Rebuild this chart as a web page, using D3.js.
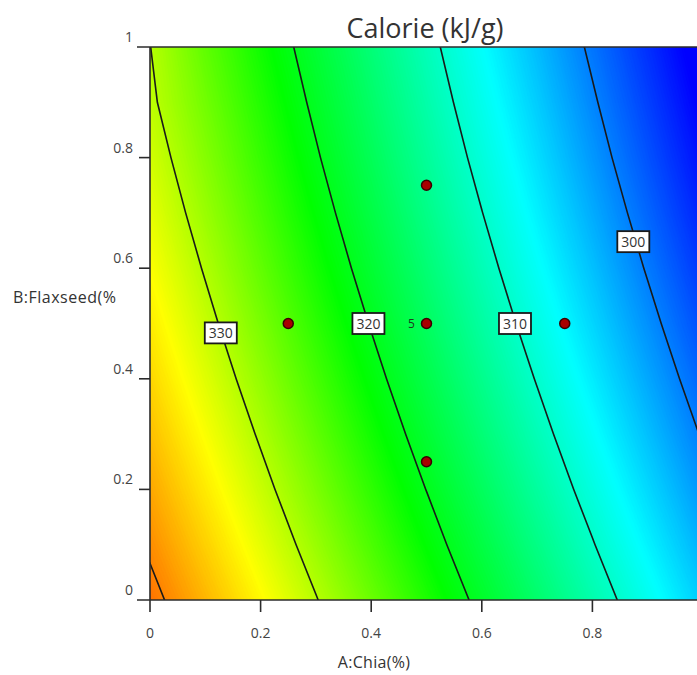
<!DOCTYPE html>
<html>
<head>
<meta charset="utf-8">
<script src="https://cdn.jsdelivr.net/npm/d3@7"></script>
<style>
  body { margin: 0; background: #fff; }
  text { font-family: "Open Sans", "Noto Sans", sans-serif; }
</style>
</head>
<body>
<div id="chart"></div>
<script>
// A:Chia and B:Flaxseed grid positions (fraction)
const chiaGrid = [0, 0.1, 0.2, 0.3, 0.4, 0.5, 0.6, 0.7, 0.8, 0.9, 1]
const flaxGrid = [0, 0.1, 0.2, 0.3, 0.4, 0.5, 0.6, 0.7, 0.8, 0.9, 1]

// Calorie (kJ/g), one row per flaxseed level (B = 0 first)
const calorieGrid = [
  [340.94, 337.37, 333.77, 330.15, 326.51, 322.84, 319.15, 315.43, 311.69, 307.93, 304.14],
  [339.52, 335.94, 332.33, 328.70, 325.04, 321.36, 317.66, 313.93, 310.18, 306.40, 302.60],
  [338.17, 334.57, 330.95, 327.31, 323.64, 319.95, 316.23, 312.49, 308.73, 304.94, 301.13],
  [336.88, 333.27, 329.64, 325.98, 322.30, 318.60, 314.87, 311.12, 307.34, 303.54, 299.72],
  [335.65, 332.03, 328.39, 324.72, 321.03, 317.31, 313.57, 309.81, 306.02, 302.21, 298.37],
  [334.49, 330.86, 327.20, 323.52, 319.82, 316.09, 312.34, 308.56, 304.76, 300.94, 297.09],
  [333.39, 329.75, 326.08, 322.39, 318.67, 314.93, 311.17, 307.38, 303.57, 299.73, 295.87],
  [332.36, 328.70, 325.02, 321.32, 317.59, 313.84, 310.06, 306.26, 302.44, 298.59, 294.72],
  [331.39, 327.72, 324.03, 320.31, 316.57, 312.81, 309.02, 305.21, 301.37, 297.51, 293.63],
  [330.49, 326.81, 323.11, 319.38, 315.63, 311.85, 308.05, 304.23, 300.38, 296.51, 292.61],
  [330.05, 325.96, 322.24, 318.50, 314.74, 310.95, 307.14, 303.30, 299.44, 295.56, 291.65]
]

const contourLevels = [300, 310, 320, 330, 340]

// labelled contours and where their boxes sit
const labelLevels = [330, 320, 310, 300]
const labelChia = [0.128, 0.395, 0.66, 0.874]
const labelFlax = [0.483, 0.5, 0.5, 0.648]

// design points
const designChia = [0.25, 0.5, 0.75, 0.5, 0.5]
const designFlax = [0.5, 0.5, 0.5, 0.25, 0.75]
const designReps = [1, 5, 1, 1, 1]

const xTicks = [0, 0.2, 0.4, 0.6, 0.8, 1]
const xTickLabels = ["0", "0.2", "0.4", "0.6", "0.8"]
const yTicks = [0, 0.2, 0.4, 0.6, 0.8, 1]
const yTickLabels = ["0", "0.2", "0.4", "0.6", "0.8", "1"]

const colorStops = [293, 307, 321.5, 333.5, 347]
const colorNames = ["#0000ff", "#00ffff", "#00ff00", "#ffff00", "#ff0000"]

const width = 697, height = 675
const margin = { left: 150, top: 47, bottom: 75 }

const x = d3.scaleLinear().domain([0, 1]).range([margin.left, margin.left + 553])
const y = d3.scaleLinear().domain([0, 1]).range([height - margin.bottom, margin.top])
const color = d3.scaleLinear().domain(colorStops).range(colorNames).clamp(true)

const svg = d3.select("#chart").append("svg")
  .attr("width", width)
  .attr("height", height)

svg.append("defs").append("clipPath").attr("id", "plotClip")
  .append("rect")
  .attr("x", x(0)).attr("y", y(1))
  .attr("width", x(1) - x(0)).attr("height", y(0) - y(1))

// grid cell coordinates -> data -> pixels
const n = chiaGrid.length, m = flaxGrid.length
const gx = d3.scaleLinear().domain([0.5, n - 0.5]).range([chiaGrid[0], chiaGrid[n - 1]])
const gy = d3.scaleLinear().domain([0.5, m - 0.5]).range([flaxGrid[0], flaxGrid[m - 1]])
const path = d3.geoPath(d3.geoTransform({
  point: function(px, py) { this.stream.point(x(gx(px)), y(gy(py))) }
}))

const values = calorieGrid.flat()
const contours = d3.contours().size([n, m])

const plot = svg.append("g").attr("clip-path", "url(#plotClip)")

// smooth-ish fill from many thin bands
const bands = d3.range(288, 342, 0.2)
plot.append("g")
  .selectAll("path")
  .data(bands)
  .join("path")
  .attr("d", t => path(contours.contour(values, t)))
  .attr("fill", t => color(t + 0.1))
  .attr("stroke", t => color(t + 0.1))
  .attr("stroke-width", 0.4)

plot.append("g")
  .selectAll("path")
  .data(contourLevels)
  .join("path")
  .attr("d", t => path(contours.contour(values, t)))
  .attr("fill", "none")
  .attr("stroke", "#1a1a1a")
  .attr("stroke-width", 1.6)

// axes
const axisColor = "#2b2b2b"
const axes = svg.append("g")
axes.append("line")
  .attr("x1", x(0) - 13).attr("x2", width)
  .attr("y1", y(0)).attr("y2", y(0))
  .attr("stroke", axisColor).attr("stroke-width", 1.6)
axes.append("line")
  .attr("x1", x(0)).attr("x2", x(0))
  .attr("y1", y(1)).attr("y2", y(0) + 12)
  .attr("stroke", axisColor).attr("stroke-width", 1.6)
axes.append("line")
  .attr("x1", x(0) - 13).attr("x2", width)
  .attr("y1", y(1)).attr("y2", y(1))
  .attr("stroke", axisColor).attr("stroke-width", 1.6)

axes.selectAll(".xt")
  .data(xTicks.filter(d => d > 0))
  .join("line")
  .attr("x1", d => x(d)).attr("x2", d => x(d))
  .attr("y1", y(0)).attr("y2", y(0) + 12)
  .attr("stroke", axisColor).attr("stroke-width", 1.6)

axes.selectAll(".yt")
  .data(yTicks.filter(d => d > 0 && d < 1))
  .join("line")
  .attr("x1", x(0) - 11).attr("x2", x(0))
  .attr("y1", d => y(d)).attr("y2", d => y(d))
  .attr("stroke", axisColor).attr("stroke-width", 1.6)

axes.selectAll(".xl")
  .data(xTickLabels)
  .join("text")
  .attr("x", (d, i) => x(xTicks[i]))
  .attr("y", y(0) + 38)
  .attr("text-anchor", "middle")
  .attr("font-size", 14)
  .attr("fill", "#444")
  .text(d => d)

axes.selectAll(".yl")
  .data(yTickLabels)
  .join("text")
  .attr("x", x(0) - 17)
  .attr("y", (d, i) => y(yTicks[i]) - 5)
  .attr("text-anchor", "end")
  .attr("font-size", 14)
  .attr("fill", "#444")
  .text(d => d)

svg.append("text")
  .attr("x", 374).attr("y", 668)
  .attr("text-anchor", "middle")
  .attr("font-size", 16)
  .attr("letter-spacing", 0.3)
  .attr("fill", "#333")
  .text("A:Chia(%)")

svg.append("text")
  .attr("x", 13).attr("y", 303)
  .attr("font-size", 16)
  .attr("letter-spacing", 0.5)
  .attr("fill", "#333")
  .text("B:Flaxseed(%")

svg.append("text")
  .attr("x", 425).attr("y", 38)
  .attr("text-anchor", "middle")
  .attr("font-size", 27)
  .attr("fill", "#333")
  .text("Calorie (kJ/g)")

// contour labels
const labels = svg.append("g")
  .selectAll("g")
  .data(labelLevels.map((v, i) => ({ v, a: labelChia[i], b: labelFlax[i] })))
  .join("g")
  .attr("transform", d => `translate(${x(d.a)},${y(d.b)})`)
labels.append("rect")
  .attr("x", -16).attr("y", -10.5)
  .attr("width", 32).attr("height", 21)
  .attr("fill", "#fff")
  .attr("stroke", "#1a1a1a")
  .attr("stroke-width", 1.8)
labels.append("text")
  .attr("text-anchor", "middle")
  .attr("dy", "0.36em")
  .attr("font-size", 14)
  .attr("fill", "#333")
  .text(d => d.v)

// design points
const pts = svg.append("g")
  .selectAll("g")
  .data(designChia.map((a, i) => ({ a, b: designFlax[i], r: designReps[i] })))
  .join("g")
pts.append("circle")
  .attr("cx", d => x(d.a))
  .attr("cy", d => y(d.b))
  .attr("r", 5)
  .attr("fill", "#a80000")
  .attr("stroke", "#3a0000")
  .attr("stroke-width", 1.5)
pts.filter(d => d.r > 1)
  .append("text")
  .attr("x", d => x(d.a) - 15)
  .attr("y", d => y(d.b))
  .attr("dy", "0.36em")
  .attr("text-anchor", "middle")
  .attr("font-size", 12)
  .attr("fill", "#1e3a1e")
  .text(d => d.r)
</script>
</body>
</html>
